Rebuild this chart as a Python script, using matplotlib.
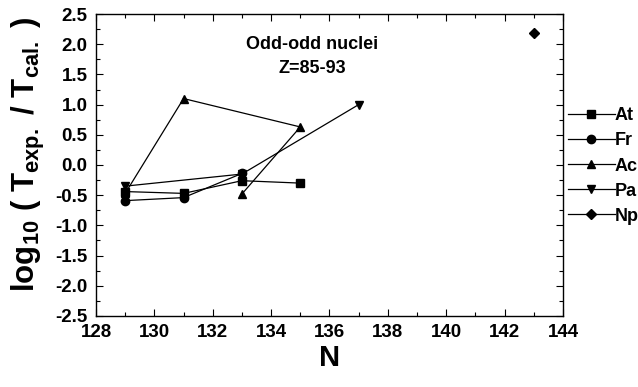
import matplotlib
matplotlib.use("Agg")
import matplotlib.pyplot as plt
from matplotlib.ticker import MultipleLocator

plt.rcParams['font.family'] = ['Liberation Sans', 'DejaVu Sans']
plt.rcParams['font.weight'] = 'bold'
plt.rcParams['mathtext.fontset'] = 'custom'
plt.rcParams['mathtext.rm'] = 'Liberation Sans:bold'
plt.rcParams['mathtext.bf'] = 'Liberation Sans:bold'

# data
at_n = [129, 131, 133, 135]
at_v = [-0.44, -0.47, -0.26, -0.30]
fr_n = [129, 131, 133]
fr_v = [-0.59, -0.54, -0.14]
ac_n = [129, 131, 135, 133]
ac_v = [-0.47, 1.10, 0.63, -0.48]
pa_n = [129, 133, 137]
pa_v = [-0.35, -0.15, 1.00]
np_n = [143]
np_v = [2.18]

series = [("At", at_n, at_v, "s"), ("Fr", fr_n, fr_v, "o"),
          ("Ac", ac_n, ac_v, "^"), ("Pa", pa_n, pa_v, "v"),
          ("Np", np_n, np_v, "D")]

fig = plt.figure(figsize=(6.38, 3.87), dpi=100)
ax = fig.add_axes([0.1505, 0.1835, 0.7319, 0.7803])

for name, n, v, m in series:
	ms = 5 if m == "D" else 6
	ax.plot(n, v, color="black", lw=0.9, marker=m, ms=ms, label=name)

ax.set_xlim(128, 144)
ax.set_ylim(-2.5, 2.5)
ax.xaxis.set_major_locator(MultipleLocator(2))
ax.xaxis.set_minor_locator(MultipleLocator(1))
ax.yaxis.set_major_locator(MultipleLocator(0.5))
ax.yaxis.set_minor_locator(MultipleLocator(0.25))
ax.tick_params(which="both", direction="in", top=True, right=True, width=0.8)
ax.tick_params(which="major", length=5, labelsize=13.5, pad=6)
ax.tick_params(which="minor", length=3)
for lab in ax.get_xticklabels() + ax.get_yticklabels():
	lab.set_fontweight("bold")
ax.xaxis.set_major_formatter(plt.FuncFormatter(lambda x, p: f"{x:.0f}"))
ax.yaxis.set_major_formatter(plt.FuncFormatter(lambda y, p: f"{y:.1f}"))
for s in ax.spines.values():
	s.set_linewidth(1.0)

ax.set_xlabel("N", fontsize=21, fontweight="bold", labelpad=2)
ax.set_ylabel(r"log$_{\mathrm{10}}$ ( T$_{\mathrm{exp.}}$ / T$_{\mathrm{cal.}}$ )",
              fontsize=22.5, fontweight="bold")
ax.yaxis.set_label_coords(-0.105, 0.535)

ax.text(135.4, 1.8, "Odd-odd nuclei\nZ=85-93", ha="center", va="center",
        fontsize=13, fontweight="bold", linespacing=1.55)

leg = ax.legend(loc="upper left", bbox_to_anchor=(0.995, 0.715), frameon=False,
                handlelength=2.6, handletextpad=0.0, labelspacing=0.45,
                prop={"weight": "bold", "size": 13}, borderaxespad=0)

fig.savefig("out.png", dpi=100)
